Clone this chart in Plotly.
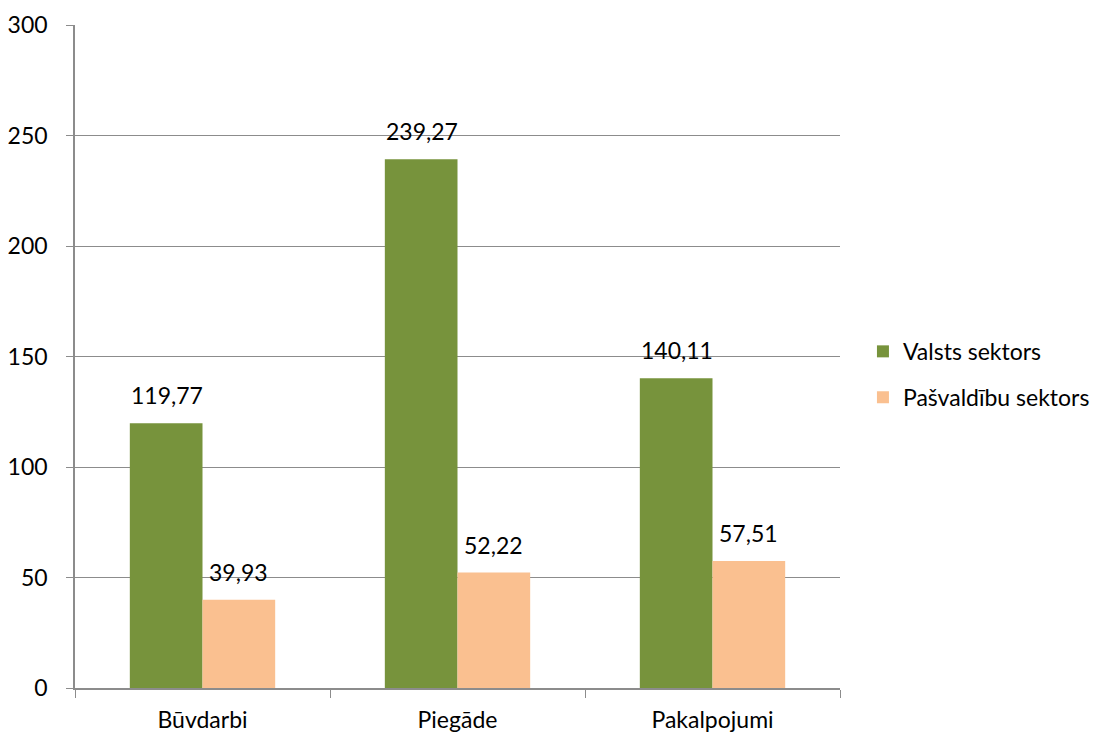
import plotly.graph_objects as go

categories = ["Būvdarbi", "Piegāde", "Pakalpojumi"]
valsts = [119.77, 239.27, 140.11]
pasvaldibu = [39.93, 52.22, 57.51]
series_names = ["Valsts sektors", "Pašvaldību sektors"]
colors = ["#77933C", "#FAC090"]

def fmt(v):
    return f"{v:.2f}".replace(".", ",")

FONT = "Lato"
FS = 23
fig = go.Figure()
for name, vals, col, grp in zip(series_names, [valsts, pasvaldibu], colors, ["a", "b"]):
    fig.add_trace(go.Bar(x=categories, y=vals, name=name, marker=dict(color=col, line=dict(width=0)),
                         legendgroup=grp))

ann = []
for vals, shift in [(valsts, -36), (pasvaldibu, 36)]:
    for c, v in zip(categories, vals):
        ann.append(dict(x=c, y=v, text=fmt(v), showarrow=False, xshift=shift, yshift=28,
                        font=dict(family=FONT, size=FS, color="#000")))

fig.update_layout(
    width=1106, height=733,
    margin=dict(l=67, r=274, t=17, b=53, autoexpand=False),
    paper_bgcolor="white", plot_bgcolor="white",
    barmode="group", bargap=0.43, bargroupgap=0,
    font=dict(family=FONT, size=FS, color="#000"),
    annotations=ann,
    legend=dict(x=1.03, y=0.473, xanchor="left", yanchor="middle", traceorder="grouped",
                tracegroupgap=13, font=dict(family=FONT, size=FS), itemwidth=30),
    showlegend=True,
)
fig.update_yaxes(range=[0, 300], dtick=50, showgrid=True, gridcolor="#8C8C8C", gridwidth=1.3,
                 showline=True, linecolor="#8C8C8C", linewidth=1.5, ticks="outside", ticklen=7,
                 tickcolor="#8C8C8C", ticklabelstandoff=14, zeroline=False, automargin=False,
                 tickfont=dict(family=FONT, size=FS))
fig.update_xaxes(showline=True, linecolor="#8C8C8C", linewidth=1.5, ticks="outside", ticklen=8,
                 tickcolor="#8C8C8C", tickson="boundaries", ticklabelstandoff=11, automargin=False,
                 tickfont=dict(family=FONT, size=FS))
fig.write_html("out.html")
